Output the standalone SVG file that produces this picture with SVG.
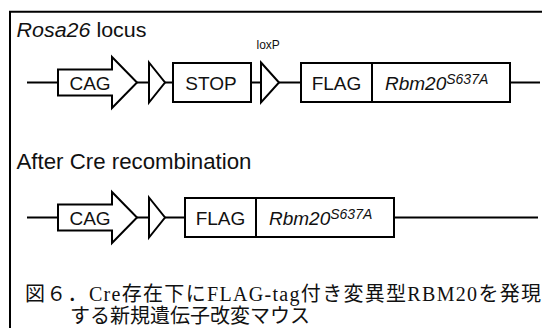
<svg xmlns="http://www.w3.org/2000/svg" width="542" height="328" viewBox="0 0 542 328">
<style>
.ln{stroke:#000;stroke-width:2;fill:none}
.bx{stroke:#000;stroke-width:2;fill:#fff}
.t{font-family:"Liberation Sans",Arial,sans-serif;fill:#111}
.lbl{font-size:19px}
.it{font-style:italic}
.cap{font-family:"Liberation Serif","Noto Sans CJK JP",serif;font-size:20px;fill:#111}
</style>
<rect width="542" height="328" fill="#fff"/>
<g id="frame">
<path class="ln" d="M10,328 V11.7 H542"/>
</g>
<text class="t" x="16.5" y="36.5" font-size="20" textLength="130" lengthAdjust="spacingAndGlyphs"><tspan class="it">Rosa26</tspan> locus</text>
<text class="t" x="256.5" y="49" font-size="12">loxP</text>
<text class="t" x="16.5" y="169" font-size="22" textLength="235" lengthAdjust="spacingAndGlyphs">After Cre recombination</text>
<g id="connectors">
<path class="ln" d="M27,82.5 H58 M137,82.5 H149 M165,82.5 H173 M251,82.5 H261 M279,82.5 H301 M510,82.5 H540"/>
<path class="ln" d="M27,217.5 H58 M137,217.5 H149 M165,217.5 H185 M394,217.5 H538"/>
</g>
<g id="r1-cag">
<path class="bx" d="M58,69.5 H112 V57 L137,82.5 L112,108 V95.5 H58 Z"/>
<text class="t lbl" x="90" y="89.5" text-anchor="middle">CAG</text>
</g>
<g id="r1-loxp1"><path class="bx" d="M149,62.5 L165,82.5 L149,102.5 Z"/></g>
<g id="r1-stop">
<rect class="bx" x="173" y="63" width="78" height="39"/>
<text class="t lbl" x="211" y="89.5" text-anchor="middle">STOP</text>
</g>
<g id="r1-loxp2"><path class="bx" d="M261,62.5 L279,82.5 L261,102.5 Z"/></g>
<g id="r1-flag">
<rect class="bx" x="301" y="63" width="71" height="39"/>
<text class="t lbl" x="336.5" y="89.5" text-anchor="middle">FLAG</text>
</g>
<g id="r1-rbm20">
<rect class="bx" x="372" y="63" width="138" height="39"/>
<text class="t lbl it" x="385" y="89.5">Rbm20<tspan font-size="14" dy="-6">S637A</tspan></text>
</g>
<g id="r2-cag">
<path class="bx" d="M58,204.5 H112 V192 L137,217.5 L112,243 V230.5 H58 Z"/>
<text class="t lbl" x="90" y="224.5" text-anchor="middle">CAG</text>
</g>
<g id="r2-loxp"><path class="bx" d="M149,197.5 L165,217.5 L149,237.5 Z"/></g>
<g id="r2-flag">
<rect class="bx" x="185" y="198" width="71" height="39"/>
<text class="t lbl" x="220.5" y="224.5" text-anchor="middle">FLAG</text>
</g>
<g id="r2-rbm20">
<rect class="bx" x="256" y="198" width="138" height="39"/>
<text class="t lbl it" x="269" y="224.5">Rbm20<tspan font-size="14" dy="-6">S637A</tspan></text>
</g>
<text class="cap" x="25" y="301" textLength="516" lengthAdjust="spacing">図６．Cre存在下にFLAG-tag付き変異型RBM20を発現</text>
<text class="cap" x="70" y="323">する新規遺伝子改変マウス</text>
</svg>
